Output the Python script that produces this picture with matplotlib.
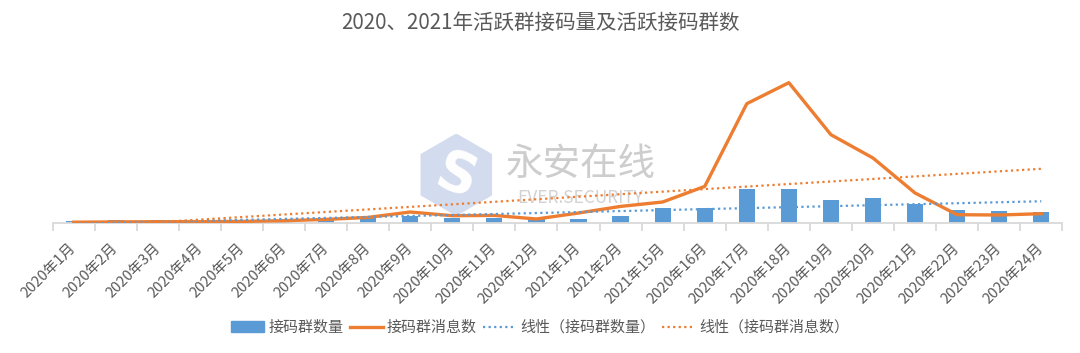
import numpy as np
import matplotlib
matplotlib.use('Agg')
import matplotlib.pyplot as plt
from matplotlib.patches import RegularPolygon
from matplotlib.lines import Line2D

plt.rcParams['font.family'] = ['Noto Sans CJK SC', 'DejaVu Sans']

TITLE = '2020、2021年活跃群接码量及活跃接码群数'

months = [
  '2020年1月', '2020年2月', '2020年3月', '2020年4月', '2020年5月', '2020年6月',
  '2020年7月', '2020年8月', '2020年9月', '2020年10月', '2020年11月', '2020年12月',
  '2021年1月', '2021年2月', '2021年15月', '2020年16月', '2020年17月', '2020年18月',
  '2020年19月', '2020年20月', '2020年21月', '2020年22月', '2020年23月', '2020年24月',
]
group_count = [13, 23, 23, 8, 8, 15, 25, 45, 63, 50, 50, 40,
               37, 70, 147, 143, 340, 333, 227, 250, 183, 127, 113, 107]
message_count = [5, 8, 10, 10, 13, 20, 33, 53, 107, 70, 73, 37,
                 97, 163, 207, 363, 1190, 1400, 880, 647, 297, 80, 77, 90]

BLUE = '#5B9BD5'
ORANGE = '#ED7D31'
GREY = '#595959'

fig = plt.figure(figsize=(10.8, 3.53), dpi=100)

# watermark
logo = fig.add_axes([0.385, 0.39, 0.075, 0.23], zorder=0)
logo.set_xlim(-1, 1)
logo.set_ylim(-1, 1)
logo.set_aspect('equal')
logo.axis('off')
logo.add_patch(RegularPolygon((0, 0), 6, radius=1.0, color='#D3DBEE'))
logo.text(0, -0.05, 'S', color='white', fontsize=40, fontweight='bold',
          ha='center', va='center', rotation=-20, family='DejaVu Sans')
fig.text(0.5375, 0.535, '永安在线', color='#CDCDCD', fontsize=27,
         ha='center', va='center', zorder=0)
fig.text(0.5375, 0.44, 'EVER.SECURITY', color='#D2D2D2', fontsize=12.5,
         ha='center', va='center', zorder=0)

ax = fig.add_axes([0.0488, 0.3691, 0.9348, 0.51], zorder=1)
ax.set_facecolor('none')

x = np.arange(len(months))
ax.bar(x, group_count, width=0.385, color=BLUE, zorder=2, label='接码群数量')
ax.plot(x, message_count, color=ORANGE, lw=2.4, zorder=3, label='接码群消息数')

k1, b1 = np.polyfit(x, group_count, 1)
k2, b2 = np.polyfit(x, message_count, 1)
ax.plot(x, k1 * x + b1, color=BLUE, lw=1.6, ls=(0, (1, 1.5)), zorder=4)
ax.plot(x, k2 * x + b2, color=ORANGE, lw=1.6, ls=(0, (1, 1.5)), zorder=4)

ax.set_xlim(-0.5, len(months) - 0.5)
ax.set_ylim(0, 1800)

for s in ['top', 'right', 'left']:
  ax.spines[s].set_visible(False)
ax.spines['bottom'].set_color('#D9D9D9')
ax.spines['bottom'].set_linewidth(1.3)
ax.set_yticks([])

ax.set_xticks(x)
ax.set_xticklabels(months, rotation=45, ha='right', va='center',
                   rotation_mode='anchor', fontsize=10.5, color=GREY)
ax.tick_params(axis='x', which='major', length=0, pad=17)
ax.set_xticks(np.arange(-0.5, len(months), 1), minor=True)
ax.tick_params(axis='x', which='minor', length=6, color='#D9D9D9', width=1.3)

fig.text(0.5, 0.935, TITLE, ha='center', va='center', fontsize=14.8,
         color=GREY, fontweight='medium')

handles = [
  plt.Rectangle((0, 0), 1, 1, color=BLUE),
  Line2D([], [], color=ORANGE, lw=2.4),
  Line2D([], [], color=BLUE, lw=1.6, ls=(0, (1, 1.5))),
  Line2D([], [], color=ORANGE, lw=1.6, ls=(0, (1, 1.5))),
]
labels = ['接码群数量', '接码群消息数', '线性（接码群数量）', '线性（接码群消息数）']
leg = fig.legend(handles, labels, loc='center', bbox_to_anchor=(0.5, 0.072),
                 ncol=4, frameon=False, fontsize=10.8, handlelength=2.2,
                 handletextpad=0.3, columnspacing=0.4)
for t in leg.get_texts():
  t.set_color(GREY)

fig.savefig('out.png', dpi=100)
